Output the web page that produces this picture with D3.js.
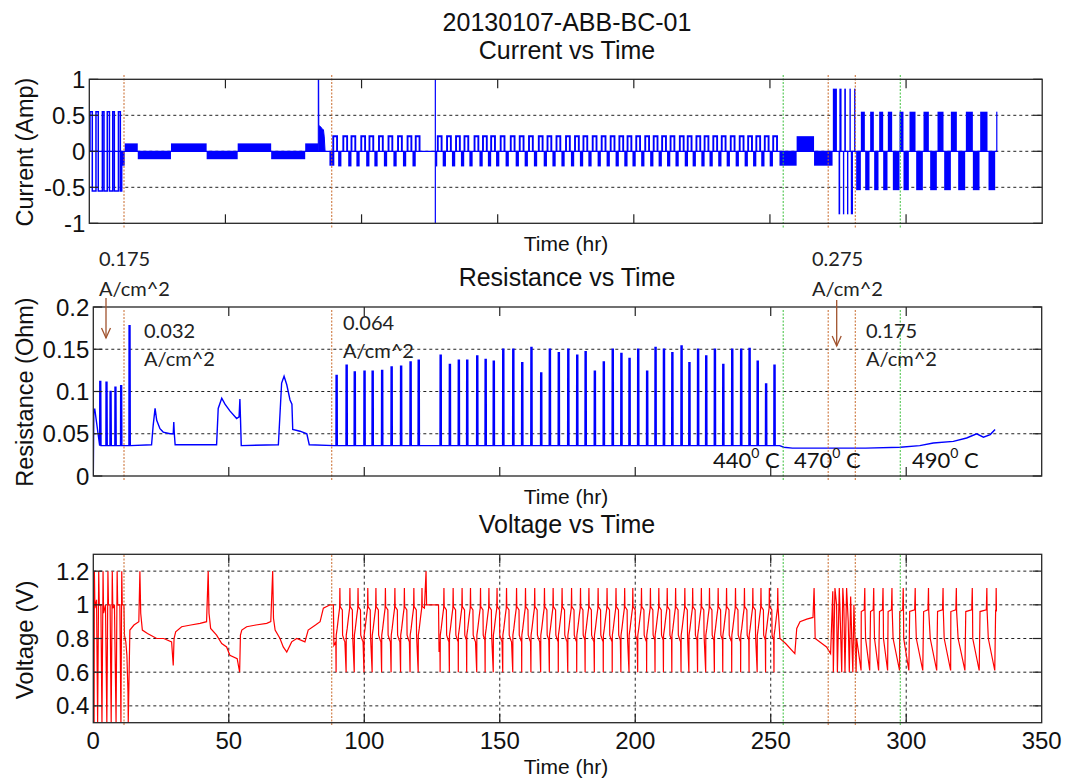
<!DOCTYPE html>
<html><head><meta charset="utf-8">
<script src="https://cdn.jsdelivr.net/npm/d3@7"></script>
<style>body{margin:0;background:#fff}</style>
</head><body>
<svg id="c" width="1065" height="778"></svg>
<script>
// ================= DATA =================
const xTicks = [0,50,100,150,200,250,300,350];
const currentTicks = [-1,-0.5,0,0.5,1];
const resistanceTicks = [0,0.05,0.1,0.15,0.2];
const voltageTicks = [0.4,0.6,0.8,1,1.2];
const currentTickLabels = ["-1","-0.5","0","0.5","1"];
const resistanceTickLabels = ["0","0.05","0.1","0.15","0.2"];
const voltageTickLabels = ["0.4","0.6","0.8","1","1.2"];

// marker lines (hr)
const orangeMarkers = [11.33, 88.0, 271.2, 281.2];
const greenMarkers = [254.6, 297.8];

// 0.064 A/cm^2 cycles: start time (hr) and resistance peak (Ohm)
const cycleTimes = [89.6,93.3,96.3,99.9,102.9,106.4,109.9,113.4,116.9,119.9,
  128.0,131.4,134.7,137.8,141.5,144.6,147.6,151.1,154.8,158.1,161.5,165.1,168.3,171.6,
  175.1,178.4,181.5,184.9,188.2,191.5,194.7,197.7,200.9,204.2,207.3,210.4,213.5,216.9,
  219.8,223.0,226.0,229.2,232.3,235.6,238.9,242.0,245.0,248.1,251.2];
const cyclePeakRes = [0.119,0.131,0.123,0.124,0.124,0.125,0.129,0.130,0.135,0.137,
  0.143,0.132,0.137,0.137,0.142,0.138,0.136,0.150,0.150,0.134,0.152,0.122,0.150,0.146,
  0.150,0.143,0.147,0.124,0.135,0.150,0.145,0.139,0.150,0.124,0.152,0.150,0.146,0.154,
  0.134,0.150,0.142,0.150,0.132,0.150,0.150,0.151,0.136,0.109,0.131];
const cycleCurrent = 0.21;        // Amp, pulse level in 0.064 phase
const cyclePosLen = 1.4;          // hr
const cycleNegStart = 1.8, cycleNegEnd = 3.0;

// early 0.175 A/cm^2 phase
const earlyPeakTimes = [0.6,2.4,4.7,6.2,8.0,10.1,13.2];
const earlyPeakRes   = [0.079,0.112,0.111,0.100,0.105,0.107,0.178];
const earlyCurrentSteps = [[0,0],[0.26,0.55],[1.1,-0.55],[2.45,0.55],[3.3,-0.55],[4.8,0.55],
  [5.4,-0.55],[6.6,0.55],[7.4,-0.55],[8.6,0.55],[9.2,-0.55],[10.7,0.55],[11.4,-0.55],[11.9,0]];

// filled current blocks [t0, t1, Amp]
const currentBlocks = [
  [11.9,13.0,-0.2],[13.0,17.8,0.11],[17.8,30.0,-0.11],[30.0,43.1,0.11],[43.1,54.5,-0.11],
  [54.5,66.8,0.11],[66.8,79.3,-0.11],[79.3,84.1,0.11],[88.2,90.0,-0.2],[127.2,127.8,-0.21],
  [253.5,259.8,-0.2],[259.8,266.2,0.21],[266.2,273.0,-0.2],
  // 0.275 A/cm^2
  [273.1,274.6,0.87],[275.2,275.8,-0.875],[275.5,276.3,0.87],[276.8,277.3,-0.875],[277.3,277.9,0.87],
  [278.3,278.8,-0.875],[279.2,279.7,0.87],[279.7,280.5,-0.875],[280.9,281.4,0.87],
  // 0.175 A/cm^2 at 490 C
  [281.67,283.39,-0.54],[283.39,284.86,0.55],[284.98,286.57,-0.54],[286.81,288.16,0.55],
  [288.28,289.87,-0.54],[290.12,291.59,0.55],[291.59,293.18,-0.54],[293.30,294.89,0.55],
  [295.14,297.59,-0.54],[297.59,299.05,0.55],[299.05,301.02,-0.54],[301.26,303.47,0.55],
  [303.71,306.16,-0.54],[306.40,308.37,0.55],[308.85,311.30,-0.54],[311.55,313.75,0.55],
  [314.0,316.45,-0.54],[316.45,318.65,0.55],[319.14,321.71,-0.54],[321.96,324.53,0.55],
  [324.53,326.98,-0.54],[327.22,329.91,0.55],[330.28,332.73,-0.54],[333.10,333.35,0.55]];
const currentSpikeShape = [[84.1,0],[84.1,1.0],[84.25,1.0],[84.3,0.36],[85.0,0.34],[85.5,0.31],[86.0,0.30],[86.3,0.2],[86.6,0]];
const currentSpikeLine = [127.1,-1,1];
const currentEnd = 333.4;

// resistance: free-form segments [t, Ohm]
const resistanceLow = [[0,0],[0.2,0.079],[0.55,0.079],[13.7,0.036],[21.5,0.037],[22.1,0.060],[22.8,0.080],[23.4,0.066],
  [24.6,0.056],[25.8,0.052],[28.3,0.050],[29.5,0.050],[29.7,0.064],[29.9,0.050],[30.2,0.037],[45.5,0.037],
  [46.1,0.080],[47.4,0.092],[48.6,0.085],[50.4,0.077],[52.9,0.068],[53.8,0.070],[54.1,0.091],[54.3,0.070],
  [54.6,0.036],[68.3,0.037],[69.5,0.110],[70.4,0.118],[71.4,0.108],[72.6,0.090],[73.3,0.085],[73.6,0.055],
  [76.3,0.053],[78.8,0.050],[79.7,0.037],[89.0,0.036]];
const resistanceHigh = [[253.3,0.036],[254.8,0.034],[258,0.033],[270,0.033],[285,0.033],[297.8,0.034],
  [305,0.036],[310,0.039],[317.4,0.041],[322.3,0.045],[326,0.050],[328.5,0.046],[331,0.049],[332.8,0.055]];
const resBaseline = 0.036;

// voltage: free-form segments [t, V]
const voltageEarly = [[0,0.72],[0.15,1.0],[0.3,0.3],[0.4,1.2],[0.6,0.98],[1.2,1.03],[1.6,0.3],[2.0,1.2],[2.2,1.0],
  [2.8,1.0],[3.2,0.3],[3.6,1.2],[3.8,0.95],[4.5,1.0],[5.0,0.3],[5.4,1.2],[5.6,1.0],[6.2,1.0],[6.6,0.3],[7.0,1.2],
  [7.2,0.98],[7.8,1.0],[8.4,0.3],[8.8,1.2],[9.0,1.0],[9.8,1.0],[10.2,0.3],[10.5,1.2],[10.7,1.0],[11.3,1.0],
  [11.5,0.82],[12.0,0.78],[12.4,0.70],[12.8,0.48],[12.9,0.3],[13.5,0.85],[15,0.88],[16.8,0.90],[17.2,1.20],
  [17.5,0.95],[18.1,0.85],[20,0.83],[23.4,0.80],[26,0.80],[28.9,0.78],[29.5,0.64],[29.8,0.80],[30.4,0.84],
  [32.6,0.87],[36,0.88],[39.4,0.89],[41.8,0.90],[42.4,1.20],[42.7,0.95],[43.3,0.86],[45.5,0.82],[47.4,0.77],
  [49.2,0.75],[50.4,0.70],[53.1,0.68],[54.0,0.60],[54.3,0.82],[54.8,0.85],[56.6,0.87],[60,0.88],[64.0,0.89],
  [65.5,0.90],[66.2,1.20],[66.5,0.92],[67.1,0.85],[68.9,0.80],[70.1,0.75],[71.4,0.72],[73.2,0.78],[75.1,0.80],
  [78.1,0.78],[79.3,0.85],[82,0.88],[83.7,0.90],[84.9,0.98],[87.4,1.0],[88.6,1.0],[88.8,0.76],[89.5,0.78]];
const voltageGap = [[122.2,0.98],[122.8,1.20],[123.0,1.0],[127.4,1.0],[127.6,0.72],[127.9,0.78]];
const voltageLate = [[253.4,0.80],[255.5,0.77],[258.9,0.71],[259.6,0.86],[260.8,0.90],[263.3,0.915],[265.6,0.925],
  [266.0,1.10],[266.4,0.80],[270.6,0.75],[272.1,0.71],[272.9,1.08],[273.1,0.60],[273.7,1.10],[274.3,1.0],
  [274.6,0.60],[275.3,1.10],[275.6,0.95],[276.2,0.60],[276.6,1.10],[277.0,0.98],[277.4,0.60],[278.0,1.10],
  [278.6,0.90],[279.0,0.60],[279.5,1.05],[279.9,0.80],[280.3,0.60],[280.7,1.0],[281.1,0.80],[281.5,0.60]];
// one 0.064 cycle: [hours after cycle start, V]
const voltCycleShape = [[0,0.60],[0.05,0.82],[0.4,0.86],[0.9,0.93],[1.3,0.98],[1.4,1.10],[1.5,0.99],
  [2.3,0.97],[2.4,0.82],[3.0,0.79],[3.25,0.78]];
const voltPhaseCEnds = [122.2, 253.3];
// 490 C phase voltage levels
const volt490 = {drop:0.80, low:0.61, high:0.96, spike:1.10};

// ================= DRAWING =================
const svg = d3.select('#c');
const sans = "'Liberation Sans', Arial, sans-serif";
const anno = "Lato, 'Open Sans', sans-serif";

const P = {
  cur: {x: d3.scaleLinear([0,350],[89.3,1042.2]), y: d3.scaleLinear([-1,1],[223.3,79.3]),
        ticks: currentTicks, labels: currentTickLabels, xlab:false, vgrid:false},
  res: {x: d3.scaleLinear([0,350],[93.3,1041.7]), y: d3.scaleLinear([0,0.2],[476,307]),
        ticks: resistanceTicks, labels: resistanceTickLabels, xlab:false, vgrid:false},
  vol: {x: d3.scaleLinear([0,350],[93.3,1041.7]), y: d3.scaleLinear([0.3,1.3],[722.7,554.3]),
        ticks: voltageTicks, labels: voltageTickLabels, xlab:true, vgrid:true}
};
const markX = P.res.x;

function setupPanel(key){
  const p = P[key];
  const [x0,x1] = p.x.range(), y0 = p.y.range()[0], y1 = p.y.range()[1];
  p.g = svg.append('g');
  p.clip = 'clip-'+key;
  svg.append('clipPath').attr('id',p.clip).append('rect')
    .attr('x',x0).attr('y',y1).attr('width',x1-x0).attr('height',y0-y1);
  p.ticks.forEach(v=>{
    if (v===p.y.domain()[0] || v===p.y.domain()[1]) return;
    p.g.append('line').attr('x1',x0).attr('x2',x1).attr('y1',p.y(v)).attr('y2',p.y(v))
      .attr('stroke','#222').attr('stroke-width',1).attr('stroke-dasharray','3,3');
  });
  if (p.vgrid) xTicks.slice(1,-1).forEach(t=>{
    p.g.append('line').attr('x1',p.x(t)).attr('x2',p.x(t)).attr('y1',y0).attr('y2',y1)
      .attr('stroke','#222').attr('stroke-width',1).attr('stroke-dasharray','3,3');
  });
  p.data = svg.append('g').attr('clip-path','url(#'+p.clip+')');
}
function finishPanel(key){
  const p = P[key];
  const [x0,x1] = p.x.range(), y0 = p.y.range()[0], y1 = p.y.range()[1];
  const g = svg.append('g');
  const tl = 9;
  xTicks.slice(1,-1).forEach(t=>{
    g.append('line').attr('x1',p.x(t)).attr('x2',p.x(t)).attr('y1',y0).attr('y2',y0-tl).attr('stroke','#222').attr('stroke-width',1.2);
    g.append('line').attr('x1',p.x(t)).attr('x2',p.x(t)).attr('y1',y1).attr('y2',y1+tl).attr('stroke','#222').attr('stroke-width',1.2);
  });
  p.ticks.forEach(v=>{
    g.append('line').attr('x1',x0).attr('x2',x0+tl).attr('y1',p.y(v)).attr('y2',p.y(v)).attr('stroke','#222').attr('stroke-width',1.2);
    g.append('line').attr('x1',x1).attr('x2',x1-tl).attr('y1',p.y(v)).attr('y2',p.y(v)).attr('stroke','#222').attr('stroke-width',1.2);
  });
  g.append('rect').attr('x',x0).attr('y',y1).attr('width',x1-x0).attr('height',y0-y1)
    .attr('fill','none').attr('stroke','#262626').attr('stroke-width',1.3);
  p.ticks.forEach((v,i)=>{
    g.append('text').attr('x',x0-4).attr('y',p.y(v)+8.5).attr('text-anchor','end')
      .attr('font-family',sans).attr('font-size',24).attr('fill','#111').text(p.labels[i]);
  });
  if (p.xlab) xTicks.forEach(t=>{
    g.append('text').attr('x',p.x(t)).attr('y',y0+26).attr('text-anchor','middle')
      .attr('font-family',sans).attr('font-size',24).attr('fill','#111').text(String(t));
  });
}
Object.keys(P).forEach(setupPanel);

// ---- markers (overlay axis) ----
const markerExt = {cur:[75,228], res:[310,481], vol:[555,725]};
function drawMarkers(key){
  const [a,b] = markerExt[key];
  orangeMarkers.forEach(t=> svg.append('line').attr('x1',markX(t)).attr('x2',markX(t)).attr('y1',a).attr('y2',b)
    .attr('stroke','#c8692a').attr('stroke-width',1).attr('stroke-dasharray','2,1.5'));
  greenMarkers.forEach(t=> svg.append('line').attr('x1',markX(t)).attr('x2',markX(t)).attr('y1',a).attr('y2',b)
    .attr('stroke','#3cc03c').attr('stroke-width',1).attr('stroke-dasharray','2,1.5'));
}

// ---- current ----
(function(){
  const p = P.cur, g = p.data, x = p.x, y = p.y, blue = '#0000ff';
  g.append('line').attr('x1',x(0)).attr('x2',x(currentEnd)).attr('y1',y(0)).attr('y2',y(0)).attr('stroke',blue).attr('stroke-width',1.2);
  g.append('path').attr('d', d3.line().x(d=>x(d[0])).y(d=>y(d[1])).curve(d3.curveStepAfter)(earlyCurrentSteps))
    .attr('fill','none').attr('stroke',blue).attr('stroke-width',1.5);
  g.selectAll('rect.b').data(currentBlocks).enter().append('rect')
    .attr('x',d=>x(d[0])).attr('width',d=>Math.max(1.2,x(d[1])-x(d[0])))
    .attr('y',d=>y(Math.max(0,d[2]))).attr('height',d=>Math.abs(y(d[2])-y(0)))
    .attr('fill',blue);
  cycleTimes.forEach((c,i)=>{
    const pts = [[c,0],[c,cycleCurrent],[c+cyclePosLen,cycleCurrent],[c+cyclePosLen,0]];
    g.append('path').attr('d', d3.line().x(d=>x(d[0])).y(d=>y(d[1]))(pts))
      .attr('fill','none').attr('stroke',blue).attr('stroke-width',1.9);
    const next = cycleTimes[i+1];
    if (next!==undefined && next-c < 5) {
      g.append('rect').attr('x',x(c+cycleNegStart)).attr('width',x(c+cycleNegEnd)-x(c+cycleNegStart))
        .attr('y',y(0)).attr('height',y(-cycleCurrent)-y(0)).attr('fill',blue);
    }
  });
  g.append('path').attr('d', d3.line().x(d=>x(d[0])).y(d=>y(d[1]))(currentSpikeShape)).attr('fill',blue).attr('stroke',blue).attr('stroke-width',1);
  g.append('line').attr('x1',x(currentSpikeLine[0])).attr('x2',x(currentSpikeLine[0]))
    .attr('y1',y(currentSpikeLine[1])).attr('y2',y(currentSpikeLine[2])).attr('stroke',blue).attr('stroke-width',1.2);
})();

// ---- resistance ----
(function(){
  const p = P.res, x = p.x, y = p.y;
  let pts = [];
  earlyPeakTimes.forEach((c,i)=>{ if (i>0) pts.push([c-0.05,resBaseline],[c,earlyPeakRes[i]],[c+0.35,earlyPeakRes[i]],[c+0.45,resBaseline]); });
  pts = pts.concat(resistanceLow);
  cycleTimes.forEach((c,i)=> pts.push([c-0.05,resBaseline],[c,cyclePeakRes[i]],[c+0.4,cyclePeakRes[i]],[c+0.45,resBaseline]));
  pts = pts.concat(resistanceHigh);
  pts.sort((a,b)=>a[0]-b[0]);
  p.data.append('path').attr('d', d3.line().x(d=>x(d[0])).y(d=>y(d[1]))(pts))
    .attr('fill','none').attr('stroke','#0000ff').attr('stroke-width',1.4);
})();

// ---- voltage ----
(function(){
  const p = P.vol, x = p.x, y = p.y;
  let pts = [].concat(voltageEarly);
  cycleTimes.forEach((c,i)=>{
    let lim = cycleTimes[i+1];
    voltPhaseCEnds.forEach(e=>{ if (e>c && (lim===undefined || e<lim)) lim = e; });
    voltCycleShape.forEach(([dt,v])=>{ if (c+dt < lim-0.02) pts.push([c+dt,v]); });
  });
  pts = pts.concat(voltageGap, voltageLate);
  currentBlocks.filter(d=>d[0]>=281.6).forEach(([a,b,v])=>{
    if (v<0) pts.push([a+0.02,volt490.drop],[b-0.05,volt490.low]);
    else pts.push([a+0.02,volt490.high],[b-0.35,volt490.high+0.01],[b-0.15,volt490.spike],[b-0.05,volt490.high]);
  });
  pts.sort((a,b)=>a[0]-b[0]);
  p.data.append('path').attr('d', d3.line().x(d=>x(d[0])).y(d=>y(d[1]))(pts))
    .attr('fill','none').attr('stroke','#ff0000').attr('stroke-width',1.2);
})();

Object.keys(P).forEach(k=>{ drawMarkers(k); finishPanel(k); });

// ---- texts ----
function T(x,y,s,o={}){
  const t = svg.append('text').attr('x',x).attr('y',y).attr('font-family',o.f||sans)
    .attr('font-size',o.s||24).attr('fill',o.c||'#111').attr('text-anchor',o.a||'middle').text(s);
  if (o.r) t.attr('transform',`rotate(-90,${x},${y})`);
  return t;
}
T(567,31,'20130107-ABB-BC-01',{s:25});
T(567,59,'Current vs Time',{s:25});
T(566,251,'Time (hr)',{s:21});
T(567,286,'Resistance vs Time',{s:25});
T(566,504,'Time (hr)',{s:21});
T(567,533,'Voltage vs Time',{s:25});
T(566,774,'Time (hr)',{s:21});
T(33,152,'Current (Amp)',{r:true,s:23.5});
T(33,392,'Resistance (Ohm)',{r:true,s:23.5});
T(33,640,'Voltage (V)',{r:true,s:24});

const A = {f:anno,s:20,c:'#222',a:'start'};
T(99,266,'0.175',A); T(99,296,'A/cm^2',A);
T(144,338,'0.032',A); T(144,366,'A/cm^2',A);
T(343,330,'0.064',A); T(343,358,'A/cm^2',A);
T(812,266,'0.275',A); T(812,296,'A/cm^2',A);
T(866,338,'0.175',A); T(866,366,'A/cm^2',A);
function arrow(x,y0,y1){
  svg.append('line').attr('x1',x).attr('x2',x).attr('y1',y0).attr('y2',y1).attr('stroke','#a0522d').attr('stroke-width',1.3);
  svg.append('path').attr('d',`M${x-4.5},${y1-10}L${x},${y1}L${x+4.5},${y1-10}`).attr('fill','none').attr('stroke','#a0522d').attr('stroke-width',1.3);
}
arrow(106,298,338); arrow(836.7,300,346);
function temp(x,s){
  const t = svg.append('text').attr('x',x).attr('y',468).attr('font-family',anno).attr('font-size',22).attr('fill','#111');
  t.append('tspan').text(s);
  t.append('tspan').attr('font-size',14).attr('dy',-10).text('0');
  t.append('tspan').attr('dy',10).text(' C');
}
temp(713,'440'); temp(794,'470'); temp(912,'490');
</script>
</body></html>
